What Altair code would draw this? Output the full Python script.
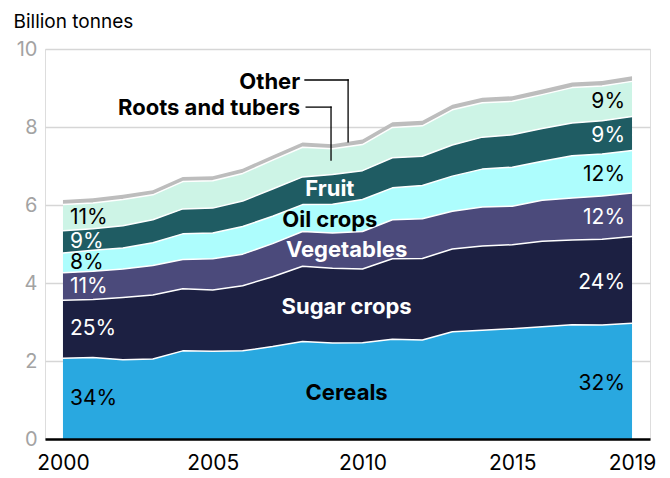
import altair as alt
import pandas as pd

FONT = "Inter"

years = list(range(2000, 2020))
series = ["Cereals", "Sugar crops", "Vegetables", "Oil crops", "Fruit", "Roots and tubers", "Other"]
colors = ["#29a8e0", "#1c2042", "#4b4a7b", "#adfdfd", "#1f5c63", "#cdf4e6", "#bdbdbd"]

cereals = [2.07, 2.09, 2.03, 2.05, 2.26, 2.25, 2.26, 2.37, 2.50, 2.46, 2.47, 2.56, 2.54, 2.75, 2.79, 2.83, 2.88, 2.93, 2.92, 2.97]
sugar = [1.49, 1.49, 1.60, 1.64, 1.59, 1.57, 1.67, 1.79, 1.93, 1.92, 1.89, 2.06, 2.09, 2.12, 2.16, 2.15, 2.19, 2.17, 2.20, 2.22]
vegetables = [0.70, 0.72, 0.73, 0.76, 0.75, 0.80, 0.81, 0.85, 0.89, 0.90, 0.96, 1.00, 1.02, 0.97, 1.00, 0.99, 1.05, 1.08, 1.11, 1.12]
oil_crops = [0.51, 0.54, 0.54, 0.58, 0.66, 0.66, 0.71, 0.70, 0.69, 0.74, 0.82, 0.82, 0.85, 0.90, 0.97, 1.00, 1.00, 1.08, 1.08, 1.09]
fruit = [0.57, 0.55, 0.57, 0.59, 0.64, 0.64, 0.65, 0.70, 0.71, 0.76, 0.74, 0.77, 0.75, 0.80, 0.82, 0.83, 0.84, 0.84, 0.85, 0.87]
roots = [0.67, 0.66, 0.67, 0.64, 0.70, 0.70, 0.71, 0.74, 0.76, 0.66, 0.67, 0.78, 0.78, 0.90, 0.88, 0.86, 0.87, 0.91, 0.89, 0.90]
other = [0.12, 0.12, 0.12, 0.12, 0.12, 0.12, 0.12, 0.12, 0.12, 0.12, 0.13, 0.13, 0.13, 0.13, 0.13, 0.13, 0.13, 0.13, 0.13, 0.13]

values = [cereals, sugar, vegetables, oil_crops, fruit, roots, other]

left_pct = ["34%", "25%", "11%", "8%", "9%", "11%"]
right_pct = ["32%", "24%", "12%", "12%", "9%", "9%"]
pct_colors = ["black", "white", "white", "black", "white", "black"]

x_ticks = [2000, 2005, 2010, 2015, 2019]

# long table
rows = []
for i, yr in enumerate(years):
    for k, name in enumerate(series):
        rows.append({"year": yr, "crop": name, "value": values[k][i], "order": k})
df = pd.DataFrame(rows)


def mids(idx):
    out = []
    cum = 0.0
    for k in range(6):
        v = values[k][idx]
        out.append(cum + v / 2)
        cum += v
    return out


left_df = pd.DataFrame({"year": [years[0]] * 6, "mid": mids(0), "label": left_pct, "tc": pct_colors})
right_df = pd.DataFrame({"year": [years[-1]] * 6, "mid": mids(-1), "label": right_pct, "tc": pct_colors})

cat_df = pd.DataFrame({
    "x": [2009.47, 2009.47, 2009.47, 2008.91, 2008.91],
    "y": [1.17, 3.38, 4.85, 5.62, 6.40],
    "label": ["Cereals", "Sugar crops", "Vegetables", "Oil crops", "Fruit"],
    "tc": ["black", "white", "white", "black", "white"],
})

call_df = pd.DataFrame({
    "x": [2007.92, 2007.92],
    "y": [9.15, 8.49],
    "label": ["Other", "Roots and tubers"],
})
lead_df = pd.DataFrame({
    "x": [2008.08, 2009.52, 2008.12, 2008.95],
    "x2": [2009.52, 2009.52, 2008.95, 2008.95],
    "y": [9.205, 9.205, 8.51, 8.51],
    "y2": [9.205, 7.62, 8.51, 7.15],
})
gap_df = pd.DataFrame({"x": [2005.4], "x2": [2009.95], "y": [8.8], "y2": [9.3]})

x_scale = alt.Scale(domain=[1999.4, 2019.6], nice=False, zero=False)
y_scale = alt.Scale(domain=[0, 10], nice=False)

x_axis = alt.Axis(values=x_ticks, format="d", title=None, grid=False, ticks=False,
                  domain=True, domainColor="black", domainWidth=2.5,
                  labelFontSize=21, labelColor="black", labelPadding=13, labelFont=FONT,
                  zindex=1)
y_axis = alt.Axis(values=list(range(0, 11)),
                  labelExpr="datum.value % 2 == 0 ? datum.label : ''",
                  grid=True, gridColor="#d6d6d6", gridWidth=1.5,
                  ticks=False, domain=False,
                  labelFontSize=20, labelColor="#a3a3a3", labelPadding=8, labelFont=FONT,
                  title="Billion tonnes", titleAngle=0, titleAlign="left", titleBaseline="alphabetic",
                  titleX=-32, titleY=-22, titleFontSize=19, titleFontWeight="normal",
                  titleColor="black", titleFont=FONT)

gap = alt.Chart(gap_df).mark_rect(color="white").encode(
    x=alt.X("x:Q", scale=x_scale), x2="x2:Q",
    y=alt.Y("y:Q", scale=y_scale), y2="y2:Q",
)

base = alt.Chart(df)

area = base.mark_area().encode(
    x=alt.X("year:Q", scale=x_scale, axis=x_axis),
    y=alt.Y("value:Q", stack="zero", scale=y_scale, axis=y_axis),
    color=alt.Color("crop:N", scale=alt.Scale(domain=series, range=colors), legend=None),
    order=alt.Order("order:Q", sort="ascending"),
)

seps = base.mark_line(color="white", strokeWidth=1.5, strokeJoin="round").encode(
    x=alt.X("year:Q", scale=x_scale),
    y=alt.Y("value:Q", stack="zero", scale=y_scale),
    detail="crop:N",
    order=alt.Order("order:Q", sort="ascending"),
).transform_filter(alt.datum.crop != "Other")

leads = alt.Chart(lead_df).mark_rule(color="black", strokeWidth=1.3, strokeCap="square").encode(
    x=alt.X("x:Q", scale=x_scale), x2="x2:Q",
    y=alt.Y("y:Q", scale=y_scale), y2="y2:Q",
)

left_txt = alt.Chart(left_df).mark_text(align="left", baseline="middle", dx=7, fontSize=21, font=FONT).encode(
    x=alt.X("year:Q", scale=x_scale), y=alt.Y("mid:Q", scale=y_scale),
    text="label:N", color=alt.Color("tc:N", scale=None),
)
right_txt = alt.Chart(right_df).mark_text(align="right", baseline="middle", dx=-7, dy=3, fontSize=21, font=FONT).encode(
    x=alt.X("year:Q", scale=x_scale), y=alt.Y("mid:Q", scale=y_scale),
    text="label:N", color=alt.Color("tc:N", scale=None),
)
cat_txt = alt.Chart(cat_df).mark_text(align="center", baseline="middle", fontSize=22, fontWeight="bold", font=FONT).encode(
    x=alt.X("x:Q", scale=x_scale), y=alt.Y("y:Q", scale=y_scale),
    text="label:N", color=alt.Color("tc:N", scale=None),
)
call_txt = alt.Chart(call_df).mark_text(align="right", baseline="middle", fontSize=22, fontWeight="bold", font=FONT, color="black").encode(
    x=alt.X("x:Q", scale=x_scale), y=alt.Y("y:Q", scale=y_scale),
    text="label:N",
)

chart = alt.layer(gap, area, seps, leads, left_txt, right_txt, cat_txt, call_txt).properties(
    width=605, height=390,
    padding={"left": 37, "top": 41, "right": 12, "bottom": 36},
    autosize=alt.AutoSizeParams(type="none"),
).configure_view(stroke=None).configure(background="white")

chart.save("out.html", embed_options={"renderer": "svg", "actions": False})
